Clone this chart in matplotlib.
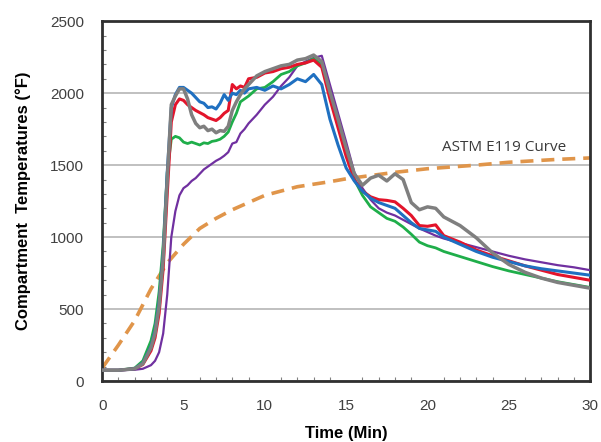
import matplotlib
matplotlib.use("Agg")
import matplotlib.pyplot as plt
from matplotlib.ticker import MultipleLocator

plt.rcParams["font.family"] = ["Liberation Sans", "DejaVu Sans"]

# time axis (min), shared by the five thermocouple traces
t = [0, 1, 2, 2.5, 3, 3.25, 3.5, 3.75, 4, 4.25, 4.5, 4.75, 5, 5.25, 5.5, 5.75,
     6, 6.25, 6.5, 6.75, 7, 7.25, 7.5, 7.75, 8, 8.25, 8.5, 8.75, 9, 9.5, 10,
     10.5, 11, 11.5, 12, 12.5, 13, 13.5, 14, 14.5, 15, 15.5, 16, 16.5, 17,
     17.5, 18, 18.5, 19, 19.5, 20, 20.5, 21, 22, 23, 24, 25, 26, 27, 28, 29, 30]

blue = [75, 75, 85, 125, 240, 350, 550, 880, 1450, 1900, 1990, 2040, 2040, 2020, 2000, 1970,
        1940, 1930, 1900, 1905, 1890, 1930, 1990, 1950, 2000, 1990, 2020, 2000, 2030, 2040, 2020,
        2050, 2030, 2060, 2100, 2080, 2130, 2060, 1820, 1640, 1480, 1390, 1320, 1270, 1240,
        1220, 1200, 1150, 1100, 1060, 1050, 1040, 1000, 950, 900, 860, 830, 800, 780, 765, 750, 735]

red = [75, 75, 85, 115, 210, 300, 470, 780, 1300, 1800, 1920, 1960, 1950, 1920, 1900, 1880,
       1865, 1850, 1830, 1820, 1810, 1830, 1860, 1880, 2060, 2030, 2050, 2040, 2100, 2110, 2140,
       2150, 2170, 2180, 2200, 2210, 2230, 2180, 1960, 1760, 1560, 1400, 1320, 1280, 1260,
       1255, 1245, 1200, 1150, 1080, 1075, 1085, 1010, 965, 910, 870, 835, 800, 770, 740, 720, 700]

green = [75, 75, 90, 140, 280, 400, 620, 950, 1450, 1680, 1700, 1690, 1660, 1650, 1660, 1650,
         1640, 1655, 1650, 1665, 1670, 1680, 1700, 1730, 1800, 1860, 1940, 1960, 1980, 2030, 2040,
         2080, 2130, 2150, 2190, 2210, 2240, 2200, 1980, 1780, 1580, 1400, 1290, 1210, 1170,
         1130, 1110, 1070, 1020, 965, 940, 925, 900, 865, 830, 795, 765, 740, 715, 690, 670, 650]

gray = [75, 75, 85, 120, 230, 330, 520, 850, 1400, 1920, 1980, 2030, 2030, 1960, 1850, 1790,
        1760, 1770, 1740, 1750, 1725, 1740, 1735, 1770, 1880, 1940, 1990, 2030, 2060, 2120, 2150,
        2170, 2190, 2200, 2230, 2240, 2265, 2220, 2010, 1820, 1620, 1440, 1360, 1410, 1430,
        1390, 1440, 1400, 1240, 1190, 1210, 1200, 1140, 1080, 995, 890, 810, 755, 715, 685, 665, 645]

purple = [75, 75, 78, 85, 110, 140, 200, 330, 600, 1000, 1180, 1290, 1340, 1360, 1390, 1410,
          1440, 1470, 1490, 1510, 1530, 1545, 1565, 1590, 1650, 1660, 1720, 1750, 1790, 1850, 1920,
          1975, 2050, 2110, 2190, 2220, 2245, 2260, 2060, 1860, 1660, 1450, 1340, 1260, 1200,
          1170, 1150, 1120, 1090, 1060, 1035, 1010, 990, 960, 930, 900, 870, 845, 825, 805, 790, 770]

# ASTM E119 standard fire curve
astm_t = [0, 1, 2, 3, 4, 5, 6, 7, 8, 10, 12, 14, 15, 18, 20, 23, 25, 28, 30]
astm_T = [90, 250, 420, 640, 820, 950, 1060, 1130, 1190, 1290, 1350, 1385, 1405, 1450, 1475,
          1500, 1520, 1540, 1550]

fig = plt.figure(figsize=(6.01, 4.42), dpi=100)
ax = fig.add_axes([0.170, 0.138, 0.812, 0.814])

ax.plot(astm_t, astm_T, color="#e0954a", lw=2.6, dashes=(3.6, 2.2), zorder=2)
ax.plot(t, purple, color="#7030a0", lw=1.6, zorder=3)
ax.plot(t, green, color="#1fae4a", lw=2.0, zorder=3)
ax.plot(t, red, color="#e3142b", lw=2.2, zorder=3)
ax.plot(t, blue, color="#1f70c1", lw=2.2, zorder=3)
ax.plot(t, gray, color="#7f7f7f", lw=2.5, zorder=4)

ax.text(20.9, 1620, "ASTM E119 Curve", fontsize=11, color="#3a3a3a",
        family="Open Sans", ha="left", va="center")

ax.set_xlim(0, 30)
ax.set_ylim(0, 2500)
ax.xaxis.set_major_locator(MultipleLocator(5))
ax.xaxis.set_minor_locator(MultipleLocator(1))
ax.yaxis.set_major_locator(MultipleLocator(500))
ax.yaxis.set_minor_locator(MultipleLocator(100))
ax.tick_params(which="both", direction="in", colors="#808080", labelcolor="#404040",
               labelsize=11)
ax.tick_params(which="major", length=0, pad=13)
ax.tick_params(which="minor", length=3, width=0.8)

ax.grid(axis="y", which="major", color="#b5b5b5", lw=1.2)
ax.set_axisbelow(True)
for s in ax.spines.values():
    s.set_linewidth(2)
    s.set_color("#303030")

ax.set_xlabel("Time (Min)", fontsize=12, fontweight="bold", labelpad=9)
ax.set_ylabel("Compartment  Temperatures (\u00b0F)", fontsize=12, fontweight="bold",
              labelpad=14)

fig.savefig("out.png", dpi=100)
